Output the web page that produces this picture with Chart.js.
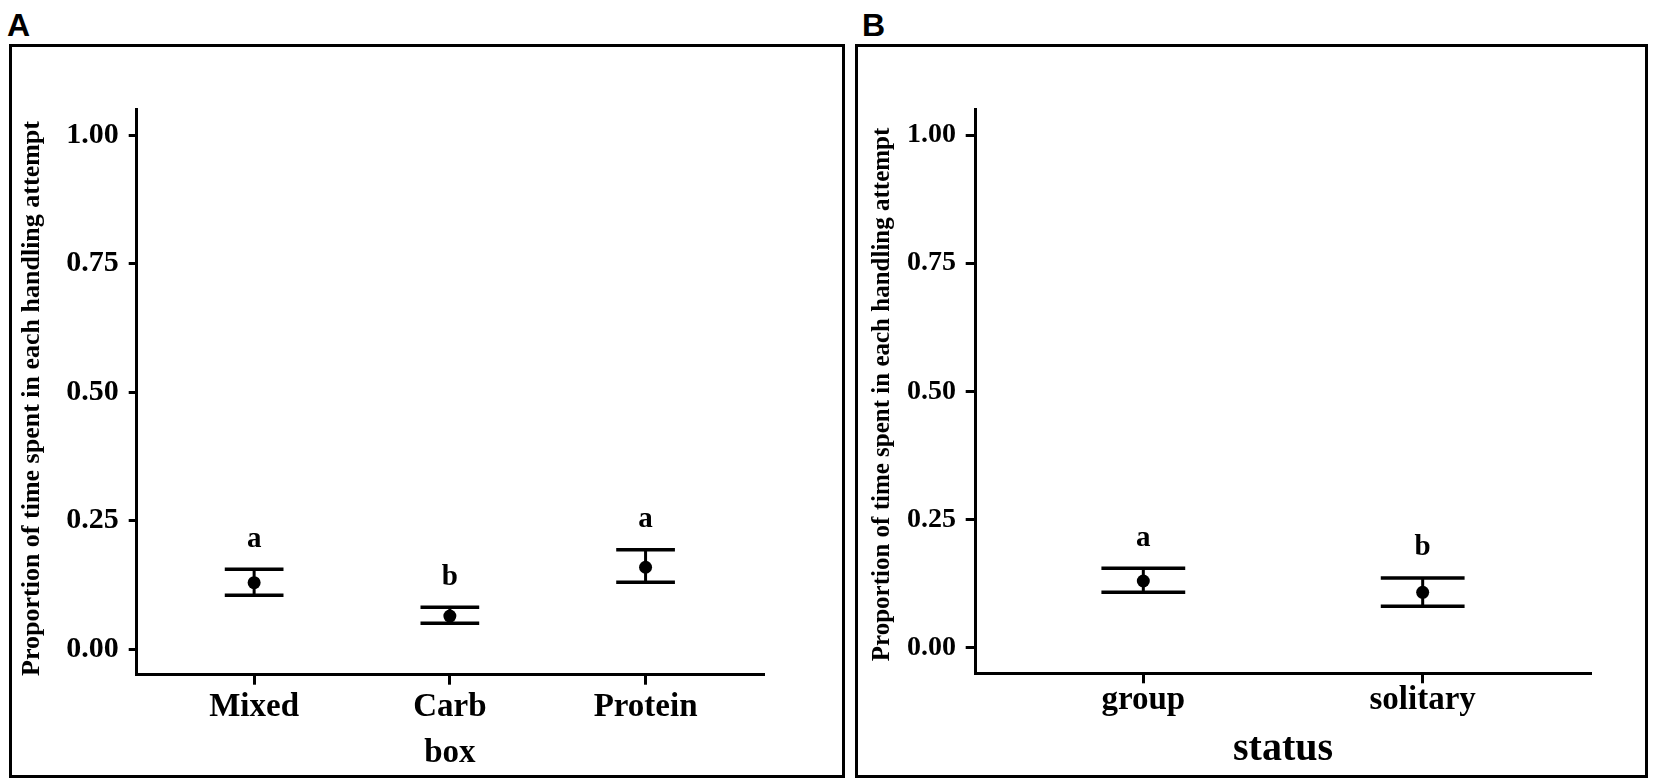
<!DOCTYPE html>
<html lang="en">
<head>
<meta charset="UTF-8">
<title>Handling attempt proportions</title>
<style>
  html, body { margin: 0; padding: 0; background: #fff; }
  body { width: 1654px; height: 779px; position: relative; overflow: hidden; }
  .frame { position: absolute; box-sizing: border-box; border: 3px solid #000; }
  .tag { position: absolute; font: bold 32px/32px "Liberation Sans", Arial, sans-serif; color: #000; }
  canvas { position: absolute; }
</style>
</head>
<body>
<div class="tag" style="left:7px;top:9px">A</div>
<div class="tag" style="left:862px;top:9px">B</div>
<div class="frame" style="left:9px;top:44px;width:836px;height:734px"></div>
<div class="frame" style="left:855px;top:44px;width:793px;height:734px"></div>
<canvas id="chartA" width="830" height="728" style="left:12px;top:47px"></canvas>
<canvas id="chartB" width="787" height="728" style="left:858px;top:47px"></canvas>

<script src="https://cdn.jsdelivr.net/npm/chart.js@4.4.1/dist/chart.umd.min.js"></script>
<script>
// panel A - by box type
var boxCats = ['Mixed', 'Carb', 'Protein'];
var boxMean = [0.129, 0.064, 0.159];
var boxLower = [0.1045, 0.050, 0.130];
var boxUpper = [0.155, 0.081, 0.193];
var boxLetters = ['a', 'b', 'a'];

// panel B - by social status
var statusCats = ['group', 'solitary'];
var statusMean = [0.130, 0.108];
var statusLower = [0.108, 0.081];
var statusUpper = [0.155, 0.136];
var statusLetters = ['a', 'b'];

var yTicks = [0, 0.25, 0.5, 0.75, 1];
var yTickLabels = ['0.00', '0.25', '0.50', '0.75', '1.00'];

var yTitle = 'Proportion of time spent in each handling attempt';
var SERIF = "'Liberation Serif', 'Times New Roman', serif";

// error bars + significance letters, drawn through the chart scales
var errorBars = {
  id: 'errorBars',
  beforeDatasetsDraw: function (chart, args, o) {
    var ctx = chart.ctx, x = chart.scales.x, y = chart.scales.y;
    ctx.save();
    ctx.strokeStyle = '#000';
    ctx.lineCap = 'butt';
    o.lower.forEach(function (lo, i) {
      var hi = o.upper[i];
      var cx = x.getPixelForValue(i);
      ctx.lineWidth = 3;
      ctx.beginPath();
      ctx.moveTo(cx, y.getPixelForValue(lo));
      ctx.lineTo(cx, y.getPixelForValue(hi));
      ctx.stroke();
      ctx.lineWidth = 3.5;
      [lo, hi].forEach(function (v) {
        ctx.beginPath();
        ctx.moveTo(x.getPixelForValue(i - o.capWidth / 2), y.getPixelForValue(v));
        ctx.lineTo(x.getPixelForValue(i + o.capWidth / 2), y.getPixelForValue(v));
        ctx.stroke();
      });
    });
    ctx.fillStyle = '#000';
    ctx.font = 'bold 29px ' + SERIF;
    ctx.textAlign = 'center';
    ctx.textBaseline = 'alphabetic';
    o.letters.forEach(function (t, i) {
      ctx.fillText(t, x.getPixelForValue(i), y.getPixelForValue(o.upper[i] + o.letterGap));
    });
    ctx.restore();
  }
};

function makePanel(id, cats, mean, lower, upper, letters, cfg) {
  return new Chart(document.getElementById(id), {
    type: 'scatter',
    data: {
      datasets: [{
        data: mean.map(function (v, i) { return { x: i, y: v }; }),
        pointRadius: 6.5,
        pointHoverRadius: 6.5,
        backgroundColor: '#000',
        borderColor: '#000',
        borderWidth: 0
      }]
    },
    options: {
      responsive: false,
      animation: false,
      layout: { padding: { top: cfg.top, right: cfg.right, left: 0, bottom: 0 } },
      plugins: {
        legend: { display: false },
        tooltip: { enabled: false },
        errorBars: { lower: lower, upper: upper, letters: letters, capWidth: 0.3, letterGap: 0.044 }
      },
      scales: {
        x: {
          type: 'linear',
          min: -0.6,
          max: cats.length - 0.4,
          afterBuildTicks: function (s) { s.ticks = cats.map(function (c, i) { return { value: i }; }); },
          afterFit: function (s) { s.height = cfg.xHeight; },
          border: { display: true, color: '#000', width: 3 },
          grid: { drawOnChartArea: false, drawTicks: true, tickLength: 10, color: '#000', lineWidth: 3 },
          ticks: {
            color: '#000', maxRotation: 0, autoSkip: false, padding: cfg.xTickPad,
            font: { family: SERIF, weight: 'bold', size: 33 },
            callback: function (v) { return cats[v]; }
          },
          title: {
            display: true, text: cfg.xTitle, color: '#000',
            font: { family: SERIF, weight: 'bold', size: cfg.xTitleSize },
            padding: { top: 0, bottom: cfg.xTitlePad }
          }
        },
        y: {
          min: -0.05,
          max: 1.05,
          afterBuildTicks: function (s) { s.ticks = yTicks.map(function (v) { return { value: v }; }); },
          afterFit: function (s) { s.width = cfg.yWidth; },
          border: { display: true, color: '#000', width: 3 },
          grid: { drawOnChartArea: false, drawTicks: true, tickLength: cfg.yTickLen, color: '#000', lineWidth: 3 },
          ticks: {
            color: '#000', padding: cfg.yTickPad,
            font: { family: SERIF, weight: 'bold', size: cfg.yTickSize },
            callback: function (v, i) { return yTickLabels[i]; }
          },
          title: {
            // trailing spaces nudge the rotated title a little lower, like the original
            display: true, text: yTitle + cfg.yTitleTail, color: '#000',
            font: { family: SERIF, weight: 'bold', size: cfg.yTitleSize },
            padding: { top: cfg.yTitlePad, bottom: 0 }
          }
        }
      }
    },
    plugins: [errorBars]
  });
}

makePanel('chartA', boxCats, boxMean, boxLower, boxUpper, boxLetters, {
  top: 62.3, right: 79, xHeight: 100.3, yWidth: 124.7,
  xTickPad: 3.4, xTitle: 'box', xTitleSize: 33, xTitlePad: 1.4,
  yTickLen: 8, yTickPad: 10, yTickSize: 30, yTitleSize: 26, yTitlePad: 5, yTitleTail: '  '
});

makePanel('chartB', statusCats, statusMean, statusLower, statusUpper, statusLetters, {
  top: 62.4, right: 54.7, xHeight: 101.7, yWidth: 117.7,
  xTickPad: -3, xTitle: 'status', xTitleSize: 40, xTitlePad: 1.5,
  yTickLen: 10, yTickPad: 9.7, yTickSize: 28, yTitleSize: 25, yTitlePad: 9.6, yTitleTail: ' '
});
</script>
</body>
</html>
